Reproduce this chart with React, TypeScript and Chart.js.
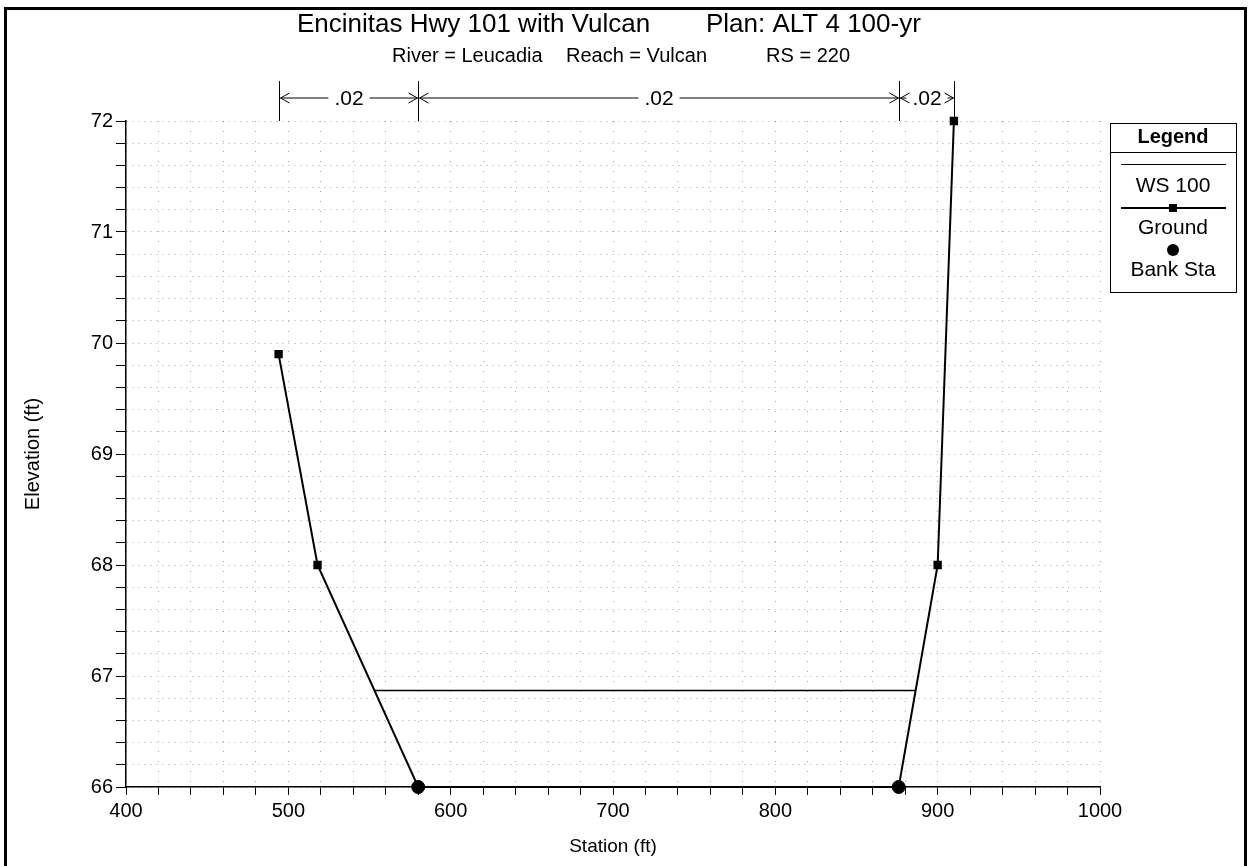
import React, { useEffect, useRef } from "react";
import { Chart, registerables } from "chart.js";

Chart.register(...registerables);

const TITLE_LEFT = "Encinitas Hwy 101 with Vulcan";
const TITLE_RIGHT = "Plan: ALT 4 100-yr";
const SUBTITLE_PARTS = ["River = Leucadia", "Reach = Vulcan", "RS = 220"];
const X_TITLE = "Station (ft)";
const Y_TITLE = "Elevation (ft)";

const groundStation = [494, 518, 580, 876, 900, 910];
const groundElev = [69.9, 68.0, 66.0, 66.0, 68.0, 72.0];

const wsStation = [553, 886];
const wsElev = [66.87, 66.87];

const bankStation = [580, 876];
const bankElev = [66.0, 66.0];

const nBreakStations = [494, 580, 876, 910];
const nValues = [".02", ".02", ".02"];

const xMin = 400, xMax = 1000, xStep = 20;
const yMin = 66, yMax = 72, yStep = 0.2;

const FONT = "Arial, 'Liberation Sans', sans-serif";

function arrowHead(ctx: CanvasRenderingContext2D, x: number, y: number, dir: number) {
  ctx.beginPath();
  ctx.moveTo(x - dir * 9, y - 5);
  ctx.lineTo(x, y);
  ctx.lineTo(x - dir * 9, y + 5);
  ctx.stroke();
}

const decorPlugin = {
  id: "decor",
  beforeDraw(chart: any) {
    const ctx = chart.ctx as CanvasRenderingContext2D;
    ctx.save();
    ctx.fillStyle = "#fff";
    ctx.fillRect(0, 0, chart.width, chart.height);
    ctx.restore();
  },
  afterDraw(chart: any) {
    const ctx = chart.ctx as CanvasRenderingContext2D;
    const xs = chart.scales.x;
    const area = chart.chartArea;
    ctx.save();
    // outer frame
    ctx.strokeStyle = "#000";
    ctx.lineWidth = 3;
    ctx.strokeRect(5.5, 8.5, 1240, 870);

    // titles
    ctx.fillStyle = "#000";
    ctx.textBaseline = "middle";
    ctx.font = `26px ${FONT}`;
    ctx.textAlign = "left";
    ctx.fillText(TITLE_LEFT, 297, 25);
    ctx.fillText(TITLE_RIGHT, 706, 25);
    ctx.font = `20px ${FONT}`;
    ctx.fillText(SUBTITLE_PARTS[0], 392, 56);
    ctx.fillText(SUBTITLE_PARTS[1], 566, 56);
    ctx.textAlign = "right";
    ctx.fillText(SUBTITLE_PARTS[2], 850, 56);

    // axis titles
    ctx.textAlign = "center";
    ctx.font = `19px ${FONT}`;
    ctx.fillText(X_TITLE, (area.left + area.right) / 2, 847);
    ctx.save();
    ctx.translate(33, (area.top + area.bottom) / 2);
    ctx.rotate(-Math.PI / 2);
    ctx.font = `20px ${FONT}`;
    ctx.fillText(Y_TITLE, 0, 0);
    ctx.restore();

    // Manning's n annotation
    ctx.lineWidth = 1;
    ctx.font = `21px ${FONT}`;
    const ay = 98;
    const px = nBreakStations.map((s) => Math.round(xs.getPixelForValue(s)) + 0.5);
    px.forEach((x) => {
      ctx.beginPath();
      ctx.moveTo(x, 81);
      ctx.lineTo(x, 121);
      ctx.stroke();
    });
    for (let i = 0; i < nValues.length; i++) {
      const x1 = px[i] + 1, x2 = px[i + 1] - 1;
      const cx = (x1 + x2) / 2;
      const tw = ctx.measureText(nValues[i]).width;
      const gap = tw / 2 + 6;
      if (cx - gap > x1 + 2) {
        ctx.beginPath();
        ctx.moveTo(x1, ay);
        ctx.lineTo(cx - gap, ay);
        ctx.moveTo(cx + gap, ay);
        ctx.lineTo(x2, ay);
        ctx.stroke();
      }
      arrowHead(ctx, x1, ay, -1);
      arrowHead(ctx, x2, ay, 1);
      ctx.fillText(nValues[i], cx, ay + 1);
    }

    // legend box
    const lx = 1110, ly = 123, lw = 126, lh = 169;
    const cxL = lx + lw / 2;
    ctx.lineWidth = 1;
    ctx.strokeRect(lx + 0.5, ly + 0.5, lw, lh);
    ctx.beginPath();
    ctx.moveTo(lx, 152.5);
    ctx.lineTo(lx + lw, 152.5);
    ctx.stroke();
    ctx.font = `bold 20px ${FONT}`;
    ctx.fillText("Legend", cxL, 137);
    ctx.font = `21px ${FONT}`;
    ctx.beginPath();
    ctx.moveTo(1121, 164.5);
    ctx.lineTo(1226, 164.5);
    ctx.stroke();
    ctx.fillText("WS 100", cxL, 186);
    ctx.lineWidth = 2;
    ctx.beginPath();
    ctx.moveTo(1121, 208);
    ctx.lineTo(1226, 208);
    ctx.stroke();
    ctx.fillRect(1169, 204, 8, 8);
    ctx.fillText("Ground", cxL, 228);
    ctx.beginPath();
    ctx.arc(1173, 250, 6, 0, Math.PI * 2);
    ctx.fill();
    ctx.fillText("Bank Sta", cxL, 270);
    ctx.restore();
  },
};

function toXY(xs: number[], ys: number[]) {
  return xs.map((x, i) => ({ x, y: ys[i] }));
}

export default function App() {
  const ref = useRef<HTMLCanvasElement>(null);
  useEffect(() => {
    if (!ref.current) return;
    const chart = new Chart(ref.current, {
      type: "scatter",
      data: {
        datasets: [
          {
            label: "WS 100",
            data: toXY(wsStation, wsElev),
            showLine: true,
            borderColor: "#000",
            borderWidth: 1.5,
            pointRadius: 0,
            clip: false,
          },
          {
            label: "Ground",
            data: toXY(groundStation, groundElev),
            showLine: true,
            borderColor: "#000",
            backgroundColor: "#000",
            borderWidth: 2,
            pointStyle: "rect",
            pointRadius: 4.5,
            clip: false,
          },
          {
            label: "Bank Sta",
            data: toXY(bankStation, bankElev),
            showLine: false,
            borderColor: "#000",
            backgroundColor: "#000",
            pointRadius: 6.5,
            clip: false,
          },
        ],
      },
      options: {
        animation: false,
        responsive: false,
        layout: { padding: { left: 8, right: 148, top: 121, bottom: 0 } },
        plugins: { legend: { display: false }, tooltip: { enabled: false }, title: { display: false } },
        scales: {
          x: {
            type: "linear",
            min: xMin,
            max: xMax,
            afterFit: (s: any) => { s.height = 79; },
            border: { display: true, color: "#000", width: 1.5, dash: [1, 9] },
            grid: {
              color: "rgba(0,0,0,0.35)",
              tickLength: 8,
              tickColor: "#000",
              tickBorderDash: [],
              tickWidth: 1,
              drawOnChartArea: true,
            } as any,
            ticks: {
              stepSize: xStep,
              autoSkip: false,
              maxRotation: 0,
              color: "#000",
              font: { family: FONT, size: 20 },
              padding: 4,
              callback: (v: any) => (Math.abs(v % 100) < 1e-6 ? String(v) : ""),
            },
            title: { display: false },
          },
          y: {
            type: "linear",
            min: yMin,
            max: yMax,
            afterFit: (s: any) => { s.width = 118; },
            border: { display: true, color: "#000", width: 1.5, dash: [1, 5] },
            grid: {
              color: "rgba(0,0,0,0.35)",
              tickLength: 10,
              tickColor: "#000",
              tickBorderDash: [],
              tickWidth: 1,
            } as any,
            ticks: {
              stepSize: yStep,
              autoSkip: false,
              color: "#000",
              font: { family: FONT, size: 20 },
              padding: 3,
              callback: (v: any) => (Math.abs(v - Math.round(v)) < 1e-6 ? String(Math.round(v)) : ""),
            },
            title: { display: false },
          },
        },
      },
      plugins: [decorPlugin],
    } as any);
    return () => chart.destroy();
  }, []);
  return (
    <div style={{ position: "fixed", left: 0, top: 0, width: 1248, height: 866, background: "#fff" }}>
      <canvas ref={ref} width={1248} height={866} style={{ display: "block" }} />
    </div>
  );
}
